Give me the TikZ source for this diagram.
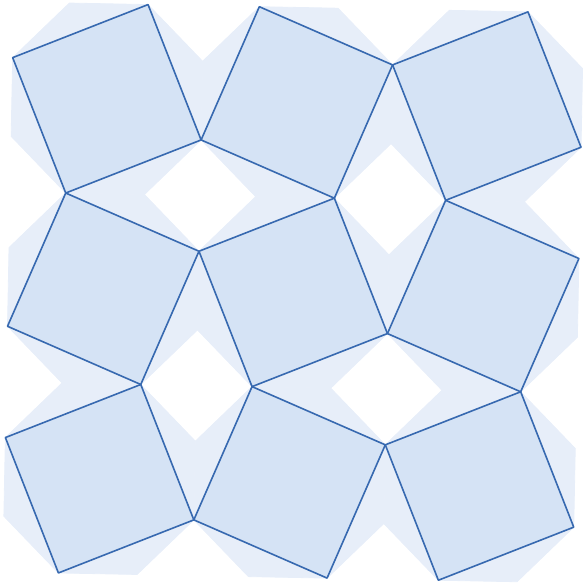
\documentclass[tikz,border=0pt]{standalone}
\definecolor{octfill}{RGB}{231,238,249}
\definecolor{sqfill}{RGB}{213,227,245}
\definecolor{sqline}{RGB}{55,105,176}
\begin{document}
\begin{tikzpicture}[x=1pt,y=-1pt,
  octa/.style={fill=octfill,draw=octfill,line width=0.8pt,line join=miter},
  sqr/.style={fill=sqfill,draw=sqline,line width=1.6pt,line join=round}]
\useasboundingbox (0,0) rectangle (582,585);
\def\rot{1.1}
\def\gx{293.2}
\def\gy{292.4}
\def\dd{190}
\def\ro{102.83}
% pale octagons
\foreach \i in {0,1,2}{
  \foreach \j in {0,1,2}{
    \pgfmathsetmacro{\cx}{\gx+((\i-1)*\dd)*cos(\rot)-((\j-1)*\dd)*sin(\rot)}
    \pgfmathsetmacro{\cy}{\gy+((\i-1)*\dd)*sin(\rot)+((\j-1)*\dd)*cos(\rot)}
    \path[octa,shift={(\cx,\cy)}] ({\rot+22.5}:\ro)
      \foreach \k in {1,...,7}{ -- ({\rot+22.5+45*\k}:\ro)} -- cycle;
  }}
% squares
\foreach \i in {0,1,2}{
  \foreach \j in {0,1,2}{
    \pgfmathsetmacro{\cx}{\gx+((\i-1)*\dd)*cos(\rot)-((\j-1)*\dd)*sin(\rot)}
    \pgfmathsetmacro{\cy}{\gy+((\i-1)*\dd)*sin(\rot)+((\j-1)*\dd)*cos(\rot)}
    \pgfmathsetmacro{\off}{ifthenelse(mod(\i+\j,2)==0,22.5,67.5)}
    \path[sqr,shift={(\cx,\cy)}] ({\rot+\off}:\ro)
      \foreach \k in {1,2,3}{ -- ({\rot+\off+90*\k}:\ro)} -- cycle;
  }}
\end{tikzpicture}
\end{document}
